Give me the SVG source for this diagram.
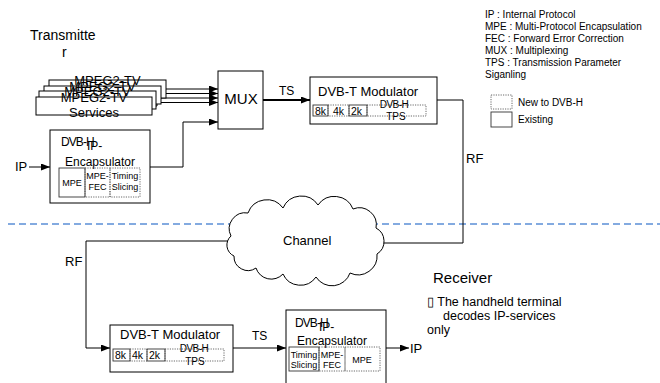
<svg xmlns="http://www.w3.org/2000/svg" width="660" height="383" viewBox="0 0 660 383">
<defs>
<marker id="ah" markerWidth="9" markerHeight="7" refX="9" refY="3.5" orient="auto" markerUnits="userSpaceOnUse"><path d="M0,0 L9,3.5 L0,7 Z" fill="#000"/></marker>
<style>
text{font-family:"Liberation Sans",Arial,sans-serif;fill:#000}
.box{fill:#fff;stroke:#000;stroke-width:1}
.sub{fill:none;stroke:#333;stroke-width:0.9}
.dot{fill:none;stroke:#444;stroke-width:0.8;stroke-dasharray:1.2 1.2}
.ln{fill:none;stroke:#000;stroke-width:1}
.c{text-anchor:middle}
.leg{font-size:10px}
.sm{font-size:9px}
</style>
</defs>
<rect width="660" height="383" fill="#fff"/>

<line x1="8" y1="224" x2="660" y2="224" stroke="#5B8FD6" stroke-width="1.3" stroke-dasharray="7 4"/>

<g id="title-transmitter">
<text x="30" y="40" font-size="14">Transmitte</text>
<text x="62" y="57" font-size="14">r</text>
</g>

<g id="connectors">
<path class="ln" d="M166,89 H218" marker-end="url(#ah)"/>
<path class="ln" d="M161,95 H164 V93.5 H218" marker-end="url(#ah)"/>
<path class="ln" d="M156,100 H160 V98 H218" marker-end="url(#ah)"/>
<path class="ln" d="M152,106 H157 V102.5 H218" marker-end="url(#ah)"/>
<path class="ln" d="M29,167 H50" marker-end="url(#ah)"/>
<path class="ln" d="M150,167 H183 V122 H218" marker-end="url(#ah)"/>
<path fill="none" stroke="#000" stroke-width="2" d="M263,100 H310" marker-end="url(#ah)"/>
<path class="ln" d="M437,100 H463 V243 H377"/>
<path class="ln" d="M232,241 H86 V348 H110" marker-end="url(#ah)"/>
<path class="ln" d="M233,348 H286" marker-end="url(#ah)"/>
<path class="ln" d="M386,348 H409" marker-end="url(#ah)"/>
<text x="279" y="95" font-size="12">TS</text>
<text x="466" y="163" font-size="13">RF</text>
<text x="65" y="266" font-size="13">RF</text>
<text x="252" y="340" font-size="12">TS</text>
<text x="15" y="171" font-size="13">IP</text>
<text x="410" y="353" font-size="13">IP</text>
</g>

<g id="services">
<rect class="box" x="49" y="80" width="117" height="18"/>
<text class="c" x="107.5" y="85" font-size="13">MPEG2-TV</text>
<text class="c" x="107.5" y="100" font-size="13">Services</text>
<rect class="box" x="44" y="86" width="117" height="18"/>
<text class="c" x="102.5" y="91" font-size="13">MPEG2-TV</text>
<text class="c" x="102.5" y="106" font-size="13">Services</text>
<rect class="box" x="39" y="91" width="117" height="18"/>
<text class="c" x="97.5" y="96" font-size="13">MPEG2-TV</text>
<text class="c" x="97.5" y="111" font-size="13">Services</text>
<rect class="box" x="36" y="97" width="116" height="18"/>
<text class="c" x="94" y="102" font-size="13">MPEG2-TV</text>
<text class="c" x="94" y="117" font-size="13">Services</text>
</g>

<g id="mux">
<rect class="box" x="218" y="71" width="45" height="58"/>
<text class="c" x="241" y="104" font-size="15">MUX</text>
</g>

<g id="tx-encapsulator">
<rect class="box" x="50" y="130" width="100" height="73"/>
<text x="61" y="146" font-size="12" letter-spacing="-0.9">DVB-H</text>
<text x="87" y="149.5" font-size="12">IP-</text>
<text x="65" y="166" font-size="12">Encapsulator</text>
<rect class="sub" x="59" y="168" width="26" height="29"/>
<rect class="dot" x="85" y="168" width="25" height="29"/>
<rect class="dot" x="110" y="168" width="30" height="29"/>
<text class="c sm" x="72" y="186">MPE</text>
<text class="c sm" x="97.5" y="179">MPE-</text>
<text class="c sm" x="97.5" y="190">FEC</text>
<text class="c sm" x="125" y="179">Timing</text>
<text class="c sm" x="125" y="190">Slicing</text>
</g>

<g id="tx-modulator">
<rect class="box" x="310" y="77" width="127" height="47"/>
<text x="318" y="96" font-size="13">DVB-T Modulator</text>
<rect class="sub" x="313" y="105" width="15" height="11"/>
<rect class="dot" x="328" y="105" width="21" height="11"/>
<rect class="sub" x="349" y="105" width="18" height="11"/>
<rect class="dot" x="367" y="105" width="59" height="11"/>
<text x="315" y="114.5" font-size="10.5">8k</text>
<text x="333" y="114.5" font-size="10.5">4k</text>
<text x="351" y="114.5" font-size="10.5">2k</text>
<text class="c" x="394" y="108" font-size="10" letter-spacing="-0.5">DVB-H</text>
<text class="c" x="396" y="120" font-size="10">TPS</text>
</g>

<g id="legend">
<text class="leg" x="485" y="18">IP : Internal Protocol</text>
<text class="leg" x="485" y="30">MPE : Multi-Protocol Encapsulation</text>
<text class="leg" x="485" y="42">FEC : Forward Error Correction</text>
<text class="leg" x="485" y="54">MUX : Multiplexing</text>
<text class="leg" x="485" y="66">TPS : Transmission Parameter</text>
<text class="leg" x="485" y="78">Siganling</text>
<rect class="dot" x="491" y="95" width="21" height="14"/>
<text class="leg" x="518" y="106">New to DVB-H</text>
<rect class="sub" x="491" y="112" width="21" height="15"/>
<text class="leg" x="518" y="123">Existing</text>
</g>

<g id="channel">
<path fill="#fff" stroke="#000" stroke-width="1" d="M231,236 A16,16 0 0 1 248,213 A20,20 0 0 1 283,208 A20,20 0 0 1 318,205 A20,20 0 0 1 353,209 A17,17 0 0 1 376,228 A15,15 0 0 1 377,254 A19,19 0 0 1 350,273 A19,19 0 0 1 316,277 A19,19 0 0 1 283,274 A16,16 0 0 1 256,268 A14,14 0 0 1 234,256 A12,12 0 0 1 231,236 Z"/>
<text x="283" y="245" font-size="13">Channel</text>
</g>

<g id="receiver-note">
<text x="433" y="283" font-size="15">Receiver</text>
<text x="427" y="306" font-size="12.5">▯  The handheld terminal</text>
<text x="443" y="320" font-size="12.5">decodes IP-services</text>
<text x="427" y="334" font-size="12.5">only</text>
</g>

<g id="rx-modulator">
<rect class="box" x="110" y="325" width="123" height="47"/>
<text x="120" y="339" font-size="13">DVB-T Modulator</text>
<rect class="sub" x="113" y="349" width="17" height="12"/>
<rect class="dot" x="130" y="349" width="17" height="12"/>
<rect class="sub" x="147" y="349" width="18" height="12"/>
<rect class="dot" x="165" y="349" width="59" height="12"/>
<text x="115" y="359" font-size="10.5">8k</text>
<text x="132" y="359" font-size="10.5">4k</text>
<text x="149" y="359" font-size="10.5">2k</text>
<text class="c" x="194" y="352" font-size="10" letter-spacing="-0.5">DVB-H</text>
<text class="c" x="195" y="365" font-size="10">TPS</text>
</g>

<g id="rx-encapsulator">
<rect class="box" x="286" y="310" width="100" height="80"/>
<text x="295" y="327" font-size="12" letter-spacing="-0.9">DVB-H</text>
<text x="319" y="331" font-size="12">IP-</text>
<text x="297" y="345" font-size="12">Encapsulator</text>
<rect class="sub" x="289" y="347" width="30" height="24"/>
<rect class="dot" x="319" y="347" width="26" height="24"/>
<rect class="dot" x="345" y="347" width="35" height="24"/>
<text class="c sm" x="304" y="358">Timing</text>
<text class="c sm" x="304" y="368">Slicing</text>
<text class="c sm" x="332" y="358">MPE-</text>
<text class="c sm" x="332" y="368">FEC</text>
<text class="c sm" x="362" y="363">MPE</text>
</g>
</svg>
